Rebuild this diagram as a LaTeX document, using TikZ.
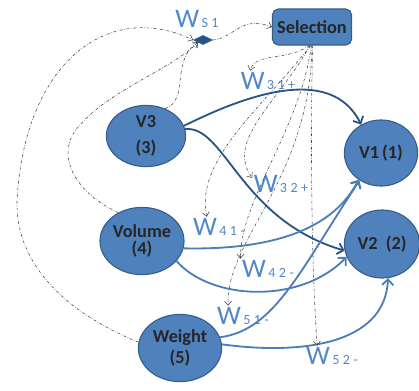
\documentclass[tikz,border=0pt]{standalone}
\usepackage{fontspec}
\setmainfont{Carlito}
\newfontfamily\subfont[LetterSpace=25]{Carlito}
\usetikzlibrary{arrows.meta,shapes.geometric}

\definecolor{nodeblue}{RGB}{79,129,189}
\definecolor{edgeblue}{RGB}{56,93,138}
\definecolor{darkflow}{RGB}{40,85,135}
\definecolor{lightflow}{RGB}{75,125,185}
\definecolor{wblue}{RGB}{80,135,198}
\definecolor{linkgray}{RGB}{70,70,70}

\newcommand{\wsub}[1]{W{\subfont\fontsize{10}{10}\selectfont\,#1}}

\begin{document}
\begin{tikzpicture}[
    x=0.025cm, y=-0.025cm,
    vnode/.style={ellipse, draw=edgeblue, line width=0.8pt, fill=nodeblue, inner sep=0pt, align=center, font=\fontsize{13}{15}\selectfont\bfseries, text=black!85},
    selbox/.style={rectangle, rounded corners=4pt, draw=edgeblue, line width=0.8pt, fill=nodeblue, minimum width=1.93cm, minimum height=0.9cm, font=\fontsize{13}{15}\selectfont\bfseries, text=black!85},
    wlabel/.style={inner sep=1pt, text=wblue, font=\fontsize{19}{20}\selectfont},
    flow/.style={-{Straight Barb[length=4pt,width=8pt]}, line width=1.3pt, lightflow},
    flowdark/.style={-{Straight Barb[length=4pt,width=8pt]}, line width=1.3pt, darkflow},
    link/.style={-{Straight Barb[length=3pt,width=5pt]}, linkgray, line width=0.4pt, dash pattern=on 2pt off 1.2pt on 0.4pt off 1.2pt}
]
    \useasboundingbox (0,0) rectangle (419,390);

    % Nodes
    \node[selbox] (sel) at (312,27) {Selection};
    \node[diamond, fill=darkflow, draw=edgeblue, inner sep=0pt, minimum width=0.48cm, minimum height=0.23cm] (dia) at (203,40) {};
    \node[vnode, minimum width=1.98cm, minimum height=1.53cm] (v3) at (146,136) {V3\\[3pt](3)};
    \node[vnode, minimum width=1.83cm, minimum height=1.65cm] (v1) at (381,153) {V1\,(1)};
    \node[vnode, minimum width=2.1cm, minimum height=1.68cm] (vol) at (142,241) {Volume\\[-3pt](4)};
    \node[vnode, minimum width=1.88cm, minimum height=1.7cm] (v2) at (382,244) {V2~~(2)};
    \node[vnode, minimum width=2.08cm, minimum height=1.68cm] (wgt) at (180,348) {Weight\\[0pt](5)};

    % Weight labels
    \node[wlabel] (ws1) at (197,19) {\wsub{S1}};
    \node[wlabel] (w31) at (268,81) {\wsub{31+}};
    \node[wlabel] (w32) at (281,184) {\wsub{32+}};
    \node[wlabel] (w41) at (219,227) {\wsub{41-}};
    \node[wlabel] (w42) at (268,269) {\wsub{42-}};
    \node[wlabel] (w51) at (243,316) {\wsub{51-}};
    \node[wlabel] (w52) at (332,356) {\wsub{52-}};

    % Solid flows
    \draw[flowdark] (v3.15) .. controls (240,98) and (330,62) .. (v1.125);
    \draw[flowdark] (v3.10) .. controls (225,125) and (240,220) .. (v2.190);
    \draw[flow] (vol.-10) .. controls (260,250) and (330,235) .. (v1.230);
    \draw[flow] (vol.-30) .. controls (210,300) and (300,305) .. (v2.200);
    \draw[flow] (wgt.15) .. controls (275,330) and (300,270) .. (v1.232);
    \draw[flow] (wgt.5) .. controls (300,355) and (385,345) .. (v2.-80);

    % Dashed links into the diamond and selection
    \draw[link] (dia.east) .. controls (235,38) and (240,15) .. (sel.west);
    \draw[link] (wgt.172) .. controls (60,310) and (15,260) .. (17,200) .. controls (25,60) and (110,0) .. (dia.west);
    \draw[link] (vol.130) .. controls (70,190) and (55,150) .. (80,125) .. controls (110,90) and (170,70) .. (dia.south west);
    \draw[link] (v3.55) .. controls (190,100) and (170,60) .. (dia.south west);

    % Dashed links from selection to the weights
    \draw[link] (sel.262) .. controls (285,62) and (255,52) .. (w31.150);
    \draw[link] (sel.264) .. controls (280,100) and (225,140) .. (w32.168);
    \draw[link] (sel.266) .. controls (260,110) and (195,160) .. (w41.140);
    \draw[link] (sel.268) .. controls (300,130) and (240,200) .. (w42.north west);
    \draw[link] (sel.270) .. controls (310,180) and (225,240) .. (w51.145);
    \draw[link] (sel.272) .. controls (310,150) and (312,280) .. (w52.145);
\end{tikzpicture}
\end{document}
